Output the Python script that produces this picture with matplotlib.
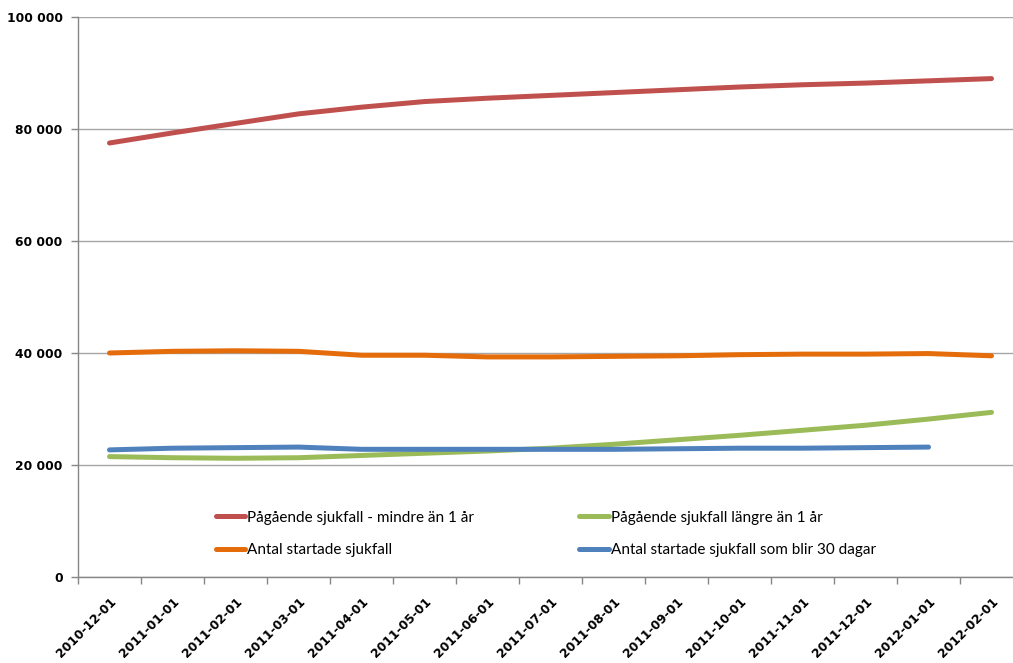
import matplotlib.pyplot as plt
import matplotlib.ticker as mticker
import numpy as np

# Månadsdata, sjukfall
months = ['2010-12-01', '2011-01-01', '2011-02-01', '2011-03-01', '2011-04-01',
          '2011-05-01', '2011-06-01', '2011-07-01', '2011-08-01', '2011-09-01',
          '2011-10-01', '2011-11-01', '2011-12-01', '2012-01-01', '2012-02-01']

pagaende_kort = [77500, 79300, 81000, 82700, 83900, 84900, 85500, 86000,
                 86500, 87000, 87500, 87900, 88200, 88600, 89000]
pagaende_lang = [21500, 21300, 21200, 21300, 21700, 22100, 22500, 23000,
                 23700, 24500, 25300, 26200, 27100, 28200, 29400]
startade = [40000, 40300, 40400, 40300, 39600, 39600, 39300, 39300,
            39400, 39500, 39700, 39800, 39800, 39900, 39500]
startade_30 = [22700, 23000, 23100, 23200, 22800, 22800, 22800, 22800,
               22800, 22900, 23000, 23000, 23100, 23200, np.nan]

series = [
    ('Pågående sjukfall - mindre än 1 år', pagaende_kort, '#C0504D'),
    ('Pågående sjukfall längre än 1 år', pagaende_lang, '#9BBB59'),
    ('Antal startade sjukfall', startade, '#E46C0A'),
    ('Antal startade sjukfall som blir 30 dagar', startade_30, '#4F81BD'),
]

W, H = 1013, 663
fig = plt.figure(figsize=(W / 100, H / 100), dpi=100)
ax = fig.add_axes([78 / W, (H - 577) / H, 945 / W, 560 / H])

x = np.arange(len(months))
lines = []
for label, vals, color in series:
    ln, = ax.plot(x, vals, color=color, linewidth=3.6, solid_capstyle='round',
                  label=label, zorder=3)
    lines.append(ln)

ax.set_xlim(-0.5, len(months) - 0.5)
ax.set_ylim(0, 100000)

# y-axel med mellanslag som tusentalsavgränsare
ax.yaxis.set_major_locator(mticker.MultipleLocator(20000))
ax.yaxis.set_major_formatter(mticker.FuncFormatter(
    lambda v, _: f'{int(v):,}'.replace(',', ' ')))
ax.grid(axis='y', color='#A6A6A6', linewidth=1.0, zorder=1)

# kategorietiketter i mitten, tickmarkeringar mellan kategorierna
ax.set_xticks(x)
ax.set_xticklabels(months, rotation=45, ha='right', rotation_mode='anchor')
ax.set_xticks(np.arange(-0.5, len(months)), minor=True)
ax.tick_params(axis='x', which='major', length=0, pad=13)
ax.tick_params(axis='x', which='minor', length=5, color='#868686', width=1)
ax.tick_params(axis='y', length=5, color='#868686', width=1, pad=6)

for lab in ax.get_xticklabels() + ax.get_yticklabels():
    lab.set_fontfamily('DejaVu Sans')
    lab.set_fontweight('bold')
    lab.set_fontsize(8.8)

for side in ['top', 'right']:
    ax.spines[side].set_visible(False)
for side in ['left', 'bottom']:
    ax.spines[side].set_color('#868686')
    ax.spines[side].set_linewidth(1)

# radvis ordning i legenden: röd, grön / orange, blå
order = [0, 2, 1, 3]
ax.legend([lines[i] for i in order], [series[i][0] for i in order],
          ncol=2, loc='upper left', bbox_to_anchor=(124 / 945, 80 / 560),
          frameon=False, handlelength=1.9, handletextpad=0.15,
          columnspacing=6.9, labelspacing=1.2,
          prop={'family': ['Lato', 'DejaVu Sans'], 'size': 11})

fig.savefig('out.png', dpi=100)
